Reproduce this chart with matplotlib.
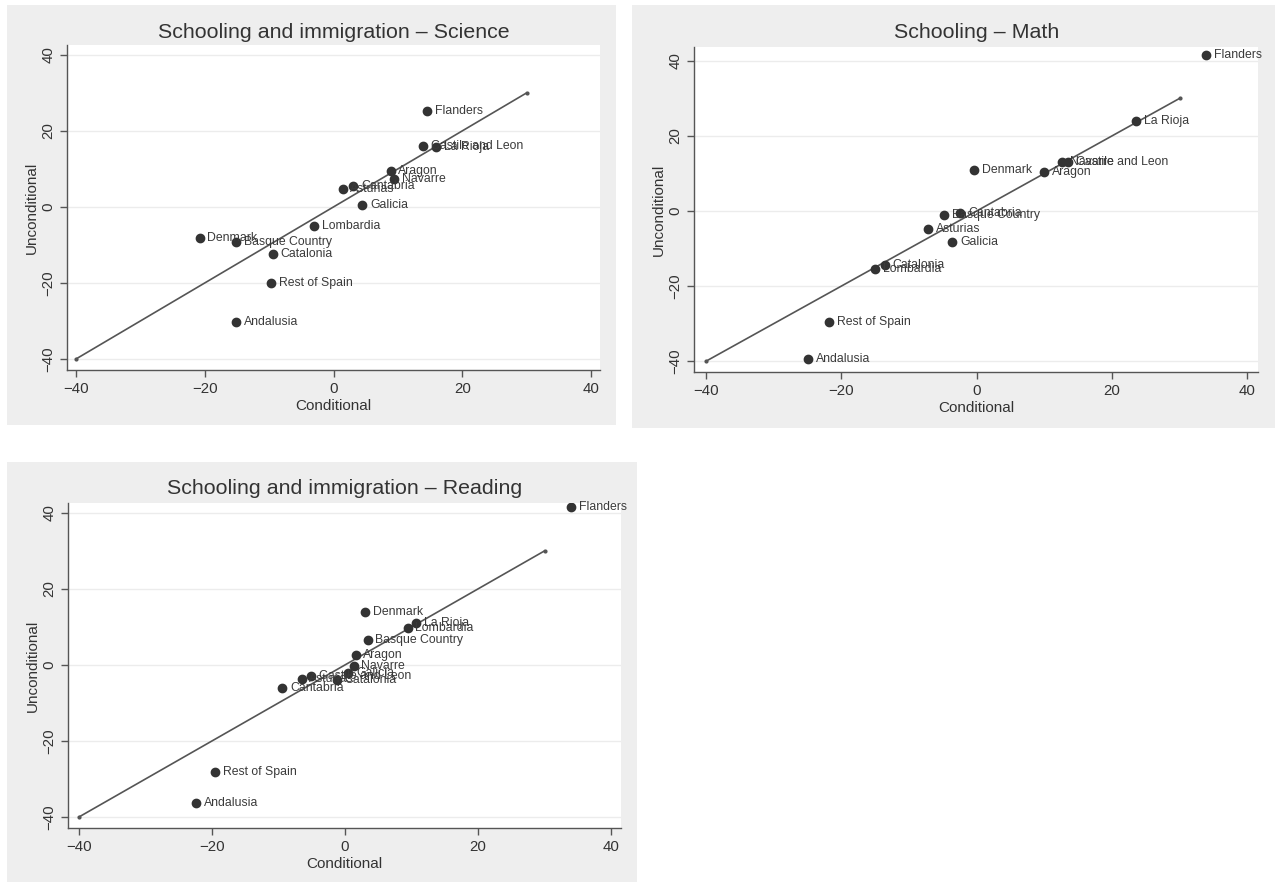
import numpy as np
import matplotlib.pyplot as plt
from matplotlib.patches import Rectangle

plt.rcParams['font.family'] = ['Liberation Sans', 'DejaVu Sans']

# --- Datos: Science ---
sci_names = ['Flanders', 'Castile and Leon', 'La Rioja', 'Aragon', 'Navarre', 'Cantabria',
             'Asturias', 'Galicia', 'Lombardia', 'Denmark', 'Basque Country', 'Catalonia',
             'Rest of Spain', 'Andalusia']
sci_cond = [14.6, 13.9, 16.0, 8.9, 9.4, 3.1, 1.4, 4.5, -3.0, -20.8, -15.1, -9.4, -9.7, -15.1]
sci_uncond = [25.3, 15.9, 15.7, 9.5, 7.4, 5.4, 4.6, 0.5, -4.9, -8.1, -9.3, -12.4, -20.1, -30.2]

# --- Datos: Math ---
math_names = ['Flanders', 'La Rioja', 'Navarre', 'Castile and Leon', 'Denmark', 'Aragon',
              'Cantabria', 'Basque Country', 'Asturias', 'Galicia', 'Catalonia', 'Lombardia',
              'Rest of Spain', 'Andalusia']
math_cond = [33.9, 23.6, 12.6, 13.5, -0.4, 10.0, -2.4, -4.8, -7.2, -3.6, -13.6, -15.0, -21.8, -24.9]
math_uncond = [41.6, 24.0, 13.1, 13.1, 10.9, 10.5, -0.4, -1.1, -4.9, -8.3, -14.4, -15.4, -29.6, -39.5]

# --- Datos: Reading ---
read_names = ['Flanders', 'Denmark', 'La Rioja', 'Lombardia', 'Basque Country', 'Aragon',
              'Navarre', 'Galicia', 'Castile and Leon', 'Asturias', 'Catalonia', 'Cantabria',
              'Rest of Spain', 'Andalusia']
read_cond = [34.0, 3.0, 10.7, 9.4, 3.4, 1.6, 1.3, 0.5, -5.1, -6.5, -1.2, -9.4, -19.5, -22.4]
read_uncond = [41.5, 13.8, 10.9, 9.7, 6.6, 2.6, -0.4, -2.1, -2.8, -3.6, -4.0, -6.1, -28.2, -36.2]

# linea de 45 grados
diag = [-40, 30]
ticks = [-40, -20, 0, 20, 40]

W, H = 1281, 882
fig = plt.figure(figsize=(W / 100, H / 100), dpi=100)
fig.patch.set_facecolor('white')

bg = '#eeeeee'
dark = '#333333'
txt = '#3a3a3a'


def px_rect(l, t, r, b):
    # convierte pixeles (origen arriba-izq) a coordenadas de figura
    return [l / W, 1 - b / H, (r - l) / W, (b - t) / H]


def panel(box, axbox, title, title_xy, names, xs, ys, xlim, ylim):
    l, t, r, b = box
    fig.patches.append(Rectangle((l / W, 1 - b / H), (r - l) / W, (b - t) / H,
                                 transform=fig.transFigure, facecolor=bg,
                                 edgecolor='none', zorder=-1))
    ax = fig.add_axes(px_rect(*axbox))
    ax.set_zorder(1)
    ax.set_facecolor('white')
    ax.set_xlim(xlim)
    ax.set_ylim(ylim)
    for s in ['top', 'right']:
        ax.spines[s].set_visible(False)
    for s in ['left', 'bottom']:
        ax.spines[s].set_color('#555555')
        ax.spines[s].set_linewidth(1.0)
    ax.set_xticks(ticks)
    ax.set_yticks(ticks)
    ax.tick_params(axis='both', colors='#555555', labelcolor=dark, labelsize=10.8,
                   length=5, width=1.0, direction='out')
    for lab in ax.get_yticklabels():
        lab.set_rotation(90)
        lab.set_va('center')
    ax.yaxis.grid(True, color='#ececec', linewidth=1.0)
    ax.set_axisbelow(True)
    ax.set_xlabel('Conditional', fontsize=11, color=dark, labelpad=2)
    ax.set_ylabel('Unconditional', fontsize=11, color=dark, labelpad=2)

    ax.plot(diag, diag, color='#555555', linewidth=1.2, marker='o', markersize=2)
    ax.plot(xs, ys, linestyle='none', marker='o', markersize=6,
            markerfacecolor=dark, markeredgecolor=dark)
    for n, x, y in zip(names, xs, ys):
        ax.annotate(n, (x, y), xytext=(5.5, 0), textcoords='offset points',
                    va='center', ha='left', fontsize=8.8, color=txt)
    fig.text(title_xy[0] / W, 1 - title_xy[1] / H, title, ha='center', va='center',
             fontsize=15.4, color=dark)
    return ax


panel((7, 5, 616, 425), (67, 45, 600, 370), 'Schooling and immigration \u2013 Science',
      (334, 32), sci_names, sci_cond, sci_uncond, (-41.4, 41.4), (-42.9, 42.6))
panel((632, 5, 1275, 428), (694, 47, 1258, 372), 'Schooling \u2013 Math',
      (977, 32), math_names, math_cond, math_uncond, (-41.8, 41.6), (-42.9, 43.7))
panel((7, 462, 637, 882), (68, 503, 621, 828), 'Schooling and immigration \u2013 Reading',
      (345, 489), read_names, read_cond, read_uncond, (-41.65, 41.5), (-42.9, 42.6))

plt.savefig('out.png', dpi=100, facecolor='white')
